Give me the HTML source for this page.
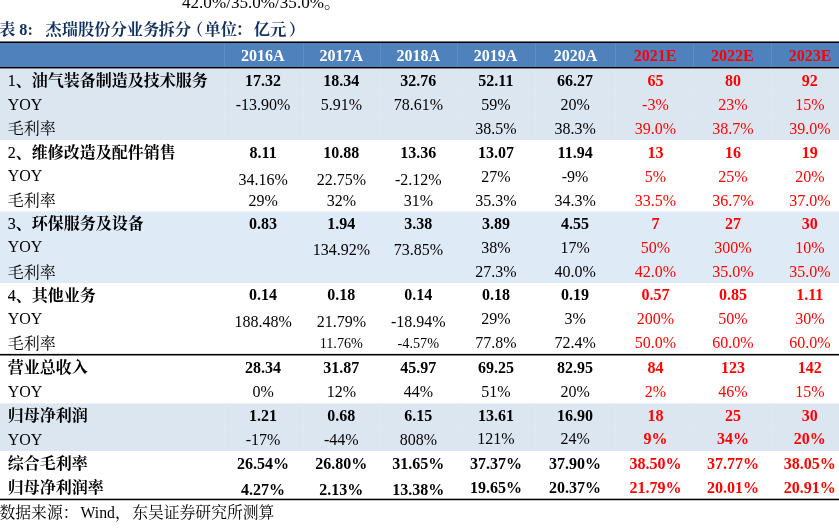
<!DOCTYPE html>
<html lang="zh-CN"><head><meta charset="utf-8"><title>表 8</title>
<style>html,body{margin:0;padding:0;background:#fff;}
body{width:839px;height:528px;overflow:hidden;position:relative;font-family:"Liberation Serif","Noto Serif CJK SC",serif;font-size:16px;color:#000;}
.abs{position:absolute;white-space:nowrap;}
.c{position:absolute;height:24px;line-height:24px;text-align:center;white-space:nowrap;}
.l{position:absolute;height:24px;line-height:24px;white-space:nowrap;left:7.7px;}
.b{font-weight:bold;}
.n{font-weight:normal;-webkit-text-stroke:0.15px #000;}
.r{color:#ff0000;}
.bg{position:absolute;left:0;width:839px;}
.ln{position:absolute;left:0;width:839px;background:#000;}
.v{position:absolute;width:1px;}
</style></head><body>
<div class="abs" id="toptxt" style="left:182.0px;top:-7.0px;font-size:17.1px;line-height:20px;">42.0%/35.0%/35.0%。</div>
<div class="abs b" id="title" style="left:-1.0px;top:18.0px;font-size:16.3px;line-height:24px;color:#12305f;">表 8:<span style="margin-left:12.5px"></span>杰瑞股份分业务<span style="margin-left:-1px">拆分</span><span style="margin-left:-4px">（</span><span style="margin-left:1.2px">单位</span><span style="margin-left:-1.5px">：</span><span style="margin-left:1.5px"></span><span style="margin-left:0.4px">亿元</span><span style="margin-left:2.5px">）</span></div>
<div class="bg" style="top:43.00px;height:24.00px;background:#4f81bd;"></div>
<div class="bg" style="top:68.00px;height:72.00px;background:#dce6f1;"></div>
<div class="bg" style="top:211.00px;height:1.00px;background:rgba(222,234,246,0.5);"></div>
<div class="bg" style="top:212.00px;height:71.00px;background:#deeaf6;"></div>
<div class="bg" style="top:403.00px;height:1.00px;background:rgba(220,230,241,0.65);"></div>
<div class="bg" style="top:404.00px;height:47.00px;background:#dce6f1;"></div>
<div class="v" style="left:224.0px;top:43px;height:24px;background:rgba(255,255,255,0.10);"></div>
<div class="v" style="left:224.0px;top:69.0px;height:71.0px;background:rgba(255,255,255,0.09);"></div>
<div class="v" style="left:224.0px;top:212.0px;height:71.0px;background:rgba(255,255,255,0.09);"></div>
<div class="v" style="left:224.0px;top:404.0px;height:47.0px;background:rgba(255,255,255,0.09);"></div>
<div class="v" style="left:303.0px;top:43px;height:24px;background:rgba(255,255,255,0.10);"></div>
<div class="v" style="left:303.0px;top:69.0px;height:71.0px;background:rgba(255,255,255,0.09);"></div>
<div class="v" style="left:303.0px;top:212.0px;height:71.0px;background:rgba(255,255,255,0.09);"></div>
<div class="v" style="left:303.0px;top:404.0px;height:47.0px;background:rgba(255,255,255,0.09);"></div>
<div class="v" style="left:380.0px;top:43px;height:24px;background:rgba(255,255,255,0.10);"></div>
<div class="v" style="left:380.0px;top:69.0px;height:71.0px;background:rgba(255,255,255,0.09);"></div>
<div class="v" style="left:380.0px;top:212.0px;height:71.0px;background:rgba(255,255,255,0.09);"></div>
<div class="v" style="left:380.0px;top:404.0px;height:47.0px;background:rgba(255,255,255,0.09);"></div>
<div class="v" style="left:457.0px;top:43px;height:24px;background:rgba(255,255,255,0.10);"></div>
<div class="v" style="left:457.0px;top:69.0px;height:71.0px;background:rgba(255,255,255,0.09);"></div>
<div class="v" style="left:457.0px;top:212.0px;height:71.0px;background:rgba(255,255,255,0.09);"></div>
<div class="v" style="left:457.0px;top:404.0px;height:47.0px;background:rgba(255,255,255,0.09);"></div>
<div class="v" style="left:535.0px;top:43px;height:24px;background:rgba(255,255,255,0.10);"></div>
<div class="v" style="left:535.0px;top:69.0px;height:71.0px;background:rgba(255,255,255,0.09);"></div>
<div class="v" style="left:535.0px;top:212.0px;height:71.0px;background:rgba(255,255,255,0.09);"></div>
<div class="v" style="left:535.0px;top:404.0px;height:47.0px;background:rgba(255,255,255,0.09);"></div>
<div class="v" style="left:615.0px;top:43px;height:24px;background:rgba(255,255,255,0.10);"></div>
<div class="v" style="left:615.0px;top:69.0px;height:71.0px;background:rgba(255,255,255,0.09);"></div>
<div class="v" style="left:615.0px;top:212.0px;height:71.0px;background:rgba(255,255,255,0.09);"></div>
<div class="v" style="left:615.0px;top:404.0px;height:47.0px;background:rgba(255,255,255,0.09);"></div>
<div class="v" style="left:693.0px;top:43px;height:24px;background:rgba(255,255,255,0.10);"></div>
<div class="v" style="left:693.0px;top:69.0px;height:71.0px;background:rgba(255,255,255,0.09);"></div>
<div class="v" style="left:693.0px;top:212.0px;height:71.0px;background:rgba(255,255,255,0.09);"></div>
<div class="v" style="left:693.0px;top:404.0px;height:47.0px;background:rgba(255,255,255,0.09);"></div>
<div class="v" style="left:771.0px;top:43px;height:24px;background:rgba(255,255,255,0.10);"></div>
<div class="v" style="left:771.0px;top:69.0px;height:71.0px;background:rgba(255,255,255,0.09);"></div>
<div class="v" style="left:771.0px;top:212.0px;height:71.0px;background:rgba(255,255,255,0.09);"></div>
<div class="v" style="left:771.0px;top:404.0px;height:47.0px;background:rgba(255,255,255,0.09);"></div>
<div class="bg" style="top:92.0px;height:1px;background:rgba(255,255,255,0.09);"></div>
<div class="bg" style="top:116.0px;height:1px;background:rgba(255,255,255,0.09);"></div>
<div class="bg" style="top:235.0px;height:1px;background:rgba(255,255,255,0.09);"></div>
<div class="bg" style="top:259.0px;height:1px;background:rgba(255,255,255,0.09);"></div>
<div class="bg" style="top:427.0px;height:1px;background:rgba(255,255,255,0.09);"></div>
<div class="ln" style="top:41.00px;height:1.00px;background:rgba(0,0,0,0.55);"></div>
<div class="ln" style="top:42.00px;height:1.00px;background:#000;"></div>
<div class="ln" style="top:67.00px;height:1.00px;background:#000;"></div>
<div class="ln" style="top:68.00px;height:1.00px;background:rgba(0,0,0,0.42);"></div>
<div class="ln" style="top:353.00px;height:1.00px;background:rgba(0,0,0,0.1);"></div>
<div class="ln" style="top:354.00px;height:1.00px;background:#000;"></div>
<div class="ln" style="top:355.00px;height:1.00px;background:rgba(0,0,0,0.5);"></div>
<div class="ln" style="top:498.00px;height:1.00px;background:rgba(0,0,0,0.33);"></div>
<div class="ln" style="top:499.00px;height:1.00px;background:#000;"></div>
<div class="ln" style="top:500.00px;height:1.00px;background:rgba(0,0,0,0.25);"></div>
<div class="c b" style="left:222.9px;width:80px;top:43.8px;color:#fff;">2016A</div>
<div class="c b" style="left:301.3px;width:80px;top:43.8px;color:#fff;">2017A</div>
<div class="c b" style="left:378.3px;width:80px;top:43.8px;color:#fff;">2018A</div>
<div class="c b" style="left:455.5px;width:80px;top:43.8px;color:#fff;">2019A</div>
<div class="c b" style="left:535.6px;width:80px;top:43.8px;color:#fff;">2020A</div>
<div class="c b r" style="left:615.2px;width:80px;top:43.8px;">2021E</div>
<div class="c b r" style="left:692.3px;width:80px;top:43.8px;">2022E</div>
<div class="c b r" style="left:770.0px;width:80px;top:43.8px;">2023E</div>
<div class="l b" style="top:68.7px;"><span class="n">1</span>、油气装备制造及技术服务</div>
<div class="c b" style="left:223.1px;width:80px;top:68.9px;">17.32</div>
<div class="c b" style="left:301.3px;width:80px;top:68.9px;">18.34</div>
<div class="c b" style="left:378.3px;width:80px;top:68.9px;">32.76</div>
<div class="c b" style="left:455.9px;width:80px;top:68.9px;">52.11</div>
<div class="c b" style="left:535.1px;width:80px;top:68.9px;">66.27</div>
<div class="c b r" style="left:615.4px;width:80px;top:68.9px;">65</div>
<div class="c b r" style="left:693.0px;width:80px;top:68.9px;">80</div>
<div class="c b r" style="left:769.8px;width:80px;top:68.9px;">92</div>
<div class="l" style="top:92.7px;">YOY</div>
<div class="c" style="left:223.1px;width:80px;top:93.0px;">-13.90%</div>
<div class="c" style="left:301.3px;width:80px;top:93.0px;">5.91%</div>
<div class="c" style="left:378.3px;width:80px;top:93.0px;">78.61%</div>
<div class="c" style="left:455.9px;width:80px;top:93.0px;">59%</div>
<div class="c" style="left:535.1px;width:80px;top:93.0px;">20%</div>
<div class="c r" style="left:615.4px;width:80px;top:93.0px;">-3%</div>
<div class="c r" style="left:693.0px;width:80px;top:93.0px;">23%</div>
<div class="c r" style="left:769.8px;width:80px;top:93.0px;">15%</div>
<div class="l" style="top:116.9px;">毛利率</div>
<div class="c" style="left:455.9px;width:80px;top:117.1px;">38.5%</div>
<div class="c" style="left:535.1px;width:80px;top:117.1px;">38.3%</div>
<div class="c r" style="left:615.4px;width:80px;top:117.1px;">39.0%</div>
<div class="c r" style="left:693.0px;width:80px;top:117.1px;">38.7%</div>
<div class="c r" style="left:769.8px;width:80px;top:117.1px;">39.0%</div>
<div class="l b" style="top:140.8px;"><span class="n">2</span>、维修改造及配件销售</div>
<div class="c b" style="left:223.1px;width:80px;top:141.3px;">8.11</div>
<div class="c b" style="left:301.3px;width:80px;top:141.3px;">10.88</div>
<div class="c b" style="left:378.3px;width:80px;top:141.3px;">13.36</div>
<div class="c b" style="left:455.9px;width:80px;top:141.3px;">13.07</div>
<div class="c b" style="left:535.1px;width:80px;top:141.3px;">11.94</div>
<div class="c b r" style="left:615.4px;width:80px;top:141.3px;">13</div>
<div class="c b r" style="left:693.0px;width:80px;top:141.3px;">16</div>
<div class="c b r" style="left:769.8px;width:80px;top:141.3px;">19</div>
<div class="l" style="top:163.6px;">YOY</div>
<div class="c" style="left:223.1px;width:80px;top:167.8px;">34.16%</div>
<div class="c" style="left:301.3px;width:80px;top:167.8px;">22.75%</div>
<div class="c" style="left:378.3px;width:80px;top:167.8px;">-2.12%</div>
<div class="c" style="left:455.9px;width:80px;top:164.7px;">27%</div>
<div class="c" style="left:535.1px;width:80px;top:164.7px;">-9%</div>
<div class="c r" style="left:615.4px;width:80px;top:164.7px;">5%</div>
<div class="c r" style="left:693.0px;width:80px;top:164.7px;">25%</div>
<div class="c r" style="left:769.8px;width:80px;top:164.7px;">20%</div>
<div class="l" style="top:188.8px;">毛利率</div>
<div class="c" style="left:223.1px;width:80px;top:188.7px;">29%</div>
<div class="c" style="left:301.3px;width:80px;top:188.7px;">32%</div>
<div class="c" style="left:378.3px;width:80px;top:188.7px;">31%</div>
<div class="c" style="left:455.9px;width:80px;top:188.7px;">35.3%</div>
<div class="c" style="left:535.1px;width:80px;top:188.7px;">34.3%</div>
<div class="c r" style="left:615.4px;width:80px;top:188.7px;">33.5%</div>
<div class="c r" style="left:693.0px;width:80px;top:188.7px;">36.7%</div>
<div class="c r" style="left:769.8px;width:80px;top:188.7px;">37.0%</div>
<div class="l b" style="top:212.0px;"><span class="n">3</span>、环保服务及设备</div>
<div class="c b" style="left:223.1px;width:80px;top:212.0px;">0.83</div>
<div class="c b" style="left:301.3px;width:80px;top:212.0px;">1.94</div>
<div class="c b" style="left:378.3px;width:80px;top:212.0px;">3.38</div>
<div class="c b" style="left:455.9px;width:80px;top:212.0px;">3.89</div>
<div class="c b" style="left:535.1px;width:80px;top:212.0px;">4.55</div>
<div class="c b r" style="left:615.4px;width:80px;top:212.0px;">7</div>
<div class="c b r" style="left:693.0px;width:80px;top:212.0px;">27</div>
<div class="c b r" style="left:769.8px;width:80px;top:212.0px;">30</div>
<div class="l" style="top:235.0px;">YOY</div>
<div class="c" style="left:301.3px;width:80px;top:237.8px;">134.92%</div>
<div class="c" style="left:378.3px;width:80px;top:237.8px;">73.85%</div>
<div class="c" style="left:455.9px;width:80px;top:235.8px;">38%</div>
<div class="c" style="left:535.1px;width:80px;top:235.8px;">17%</div>
<div class="c r" style="left:615.4px;width:80px;top:235.8px;">50%</div>
<div class="c r" style="left:693.0px;width:80px;top:235.8px;">300%</div>
<div class="c r" style="left:769.8px;width:80px;top:235.8px;">10%</div>
<div class="l" style="top:260.6px;">毛利率</div>
<div class="c" style="left:455.9px;width:80px;top:259.5px;">27.3%</div>
<div class="c" style="left:535.1px;width:80px;top:259.5px;">40.0%</div>
<div class="c r" style="left:615.4px;width:80px;top:259.5px;">42.0%</div>
<div class="c r" style="left:693.0px;width:80px;top:259.5px;">35.0%</div>
<div class="c r" style="left:769.8px;width:80px;top:259.5px;">35.0%</div>
<div class="l b" style="top:283.7px;"><span class="n">4</span>、其他业务</div>
<div class="c b" style="left:223.1px;width:80px;top:283.4px;">0.14</div>
<div class="c b" style="left:301.3px;width:80px;top:283.4px;">0.18</div>
<div class="c b" style="left:378.3px;width:80px;top:283.4px;">0.14</div>
<div class="c b" style="left:455.9px;width:80px;top:283.4px;">0.18</div>
<div class="c b" style="left:535.1px;width:80px;top:283.4px;">0.19</div>
<div class="c b r" style="left:615.4px;width:80px;top:283.4px;">0.57</div>
<div class="c b r" style="left:693.0px;width:80px;top:283.4px;">0.85</div>
<div class="c b r" style="left:769.8px;width:80px;top:283.4px;">1.11</div>
<div class="l" style="top:306.6px;">YOY</div>
<div class="c" style="left:223.1px;width:80px;top:309.5px;">188.48%</div>
<div class="c" style="left:301.3px;width:80px;top:309.5px;">21.79%</div>
<div class="c" style="left:378.3px;width:80px;top:309.5px;">-18.94%</div>
<div class="c" style="left:455.9px;width:80px;top:307.1px;">29%</div>
<div class="c" style="left:535.1px;width:80px;top:307.1px;">3%</div>
<div class="c r" style="left:615.4px;width:80px;top:307.1px;">200%</div>
<div class="c r" style="left:693.0px;width:80px;top:307.1px;">50%</div>
<div class="c r" style="left:769.8px;width:80px;top:307.1px;">30%</div>
<div class="l" style="top:332.4px;">毛利率</div>
<div class="c" style="left:301.3px;width:80px;top:330.6px;font-size:14.2px;">11.76%</div>
<div class="c" style="left:378.3px;width:80px;top:330.6px;font-size:14.2px;">-4.57%</div>
<div class="c" style="left:455.9px;width:80px;top:330.6px;">77.8%</div>
<div class="c" style="left:535.1px;width:80px;top:330.6px;">72.4%</div>
<div class="c r" style="left:615.4px;width:80px;top:330.6px;">50.0%</div>
<div class="c r" style="left:693.0px;width:80px;top:330.6px;">60.0%</div>
<div class="c r" style="left:769.8px;width:80px;top:330.6px;">60.0%</div>
<div class="l b" style="top:356.4px;">营业总收入</div>
<div class="c b" style="left:223.1px;width:80px;top:356.3px;">28.34</div>
<div class="c b" style="left:301.3px;width:80px;top:356.3px;">31.87</div>
<div class="c b" style="left:378.3px;width:80px;top:356.3px;">45.97</div>
<div class="c b" style="left:455.9px;width:80px;top:356.3px;">69.25</div>
<div class="c b" style="left:535.1px;width:80px;top:356.3px;">82.95</div>
<div class="c b r" style="left:615.4px;width:80px;top:356.3px;">84</div>
<div class="c b r" style="left:693.0px;width:80px;top:356.3px;">123</div>
<div class="c b r" style="left:769.8px;width:80px;top:356.3px;">142</div>
<div class="l" style="top:380.3px;">YOY</div>
<div class="c" style="left:223.1px;width:80px;top:379.9px;">0%</div>
<div class="c" style="left:301.3px;width:80px;top:379.9px;">12%</div>
<div class="c" style="left:378.3px;width:80px;top:379.9px;">44%</div>
<div class="c" style="left:455.9px;width:80px;top:379.9px;">51%</div>
<div class="c" style="left:535.1px;width:80px;top:379.9px;">20%</div>
<div class="c r" style="left:615.4px;width:80px;top:379.9px;">2%</div>
<div class="c r" style="left:693.0px;width:80px;top:379.9px;">46%</div>
<div class="c r" style="left:769.8px;width:80px;top:379.9px;">15%</div>
<div class="l b" style="top:404.3px;">归母净利润</div>
<div class="c b" style="left:223.1px;width:80px;top:403.7px;">1.21</div>
<div class="c b" style="left:301.3px;width:80px;top:403.7px;">0.68</div>
<div class="c b" style="left:378.3px;width:80px;top:403.7px;">6.15</div>
<div class="c b" style="left:455.9px;width:80px;top:403.7px;">13.61</div>
<div class="c b" style="left:535.1px;width:80px;top:403.7px;">16.90</div>
<div class="c b r" style="left:615.4px;width:80px;top:403.7px;">18</div>
<div class="c b r" style="left:693.0px;width:80px;top:403.7px;">25</div>
<div class="c b r" style="left:769.8px;width:80px;top:403.7px;">30</div>
<div class="l" style="top:427.6px;">YOY</div>
<div class="c" style="left:223.1px;width:80px;top:427.8px;">-17%</div>
<div class="c" style="left:301.3px;width:80px;top:427.8px;">-44%</div>
<div class="c" style="left:378.3px;width:80px;top:427.8px;">808%</div>
<div class="c" style="left:455.9px;width:80px;top:427.1px;">121%</div>
<div class="c" style="left:535.1px;width:80px;top:427.1px;">24%</div>
<div class="c b r" style="left:615.4px;width:80px;top:427.1px;">9%</div>
<div class="c b r" style="left:693.0px;width:80px;top:427.1px;">34%</div>
<div class="c b r" style="left:769.8px;width:80px;top:427.1px;">20%</div>
<div class="l b" style="top:452.2px;">综合毛利率</div>
<div class="c b" style="left:223.1px;width:80px;top:452.3px;">26.54%</div>
<div class="c b" style="left:301.3px;width:80px;top:452.3px;">26.80%</div>
<div class="c b" style="left:378.3px;width:80px;top:452.3px;">31.65%</div>
<div class="c b" style="left:455.9px;width:80px;top:451.7px;">37.37%</div>
<div class="c b" style="left:535.1px;width:80px;top:451.7px;">37.90%</div>
<div class="c b r" style="left:615.4px;width:80px;top:451.7px;">38.50%</div>
<div class="c b r" style="left:693.0px;width:80px;top:451.7px;">37.77%</div>
<div class="c b r" style="left:769.8px;width:80px;top:451.7px;">38.05%</div>
<div class="l b" style="top:476.1px;">归母净利润率</div>
<div class="c b" style="left:223.1px;width:80px;top:478.1px;">4.27%</div>
<div class="c b" style="left:301.3px;width:80px;top:478.1px;">2.13%</div>
<div class="c b" style="left:378.3px;width:80px;top:478.1px;">13.38%</div>
<div class="c b" style="left:455.9px;width:80px;top:475.8px;">19.65%</div>
<div class="c b" style="left:535.1px;width:80px;top:475.8px;">20.37%</div>
<div class="c b r" style="left:615.4px;width:80px;top:475.8px;">21.79%</div>
<div class="c b r" style="left:693.0px;width:80px;top:475.8px;">20.01%</div>
<div class="c b r" style="left:769.8px;width:80px;top:475.8px;">20.91%</div>
<div class="abs" id="src" style="left:-0.5px;top:501.0px;font-size:15.8px;line-height:24px;">数据来源：<span style="margin-left:2px">Wind，</span><span style="margin-left:1.4px">东吴证券研究所测算</span></div>
</body></html>
